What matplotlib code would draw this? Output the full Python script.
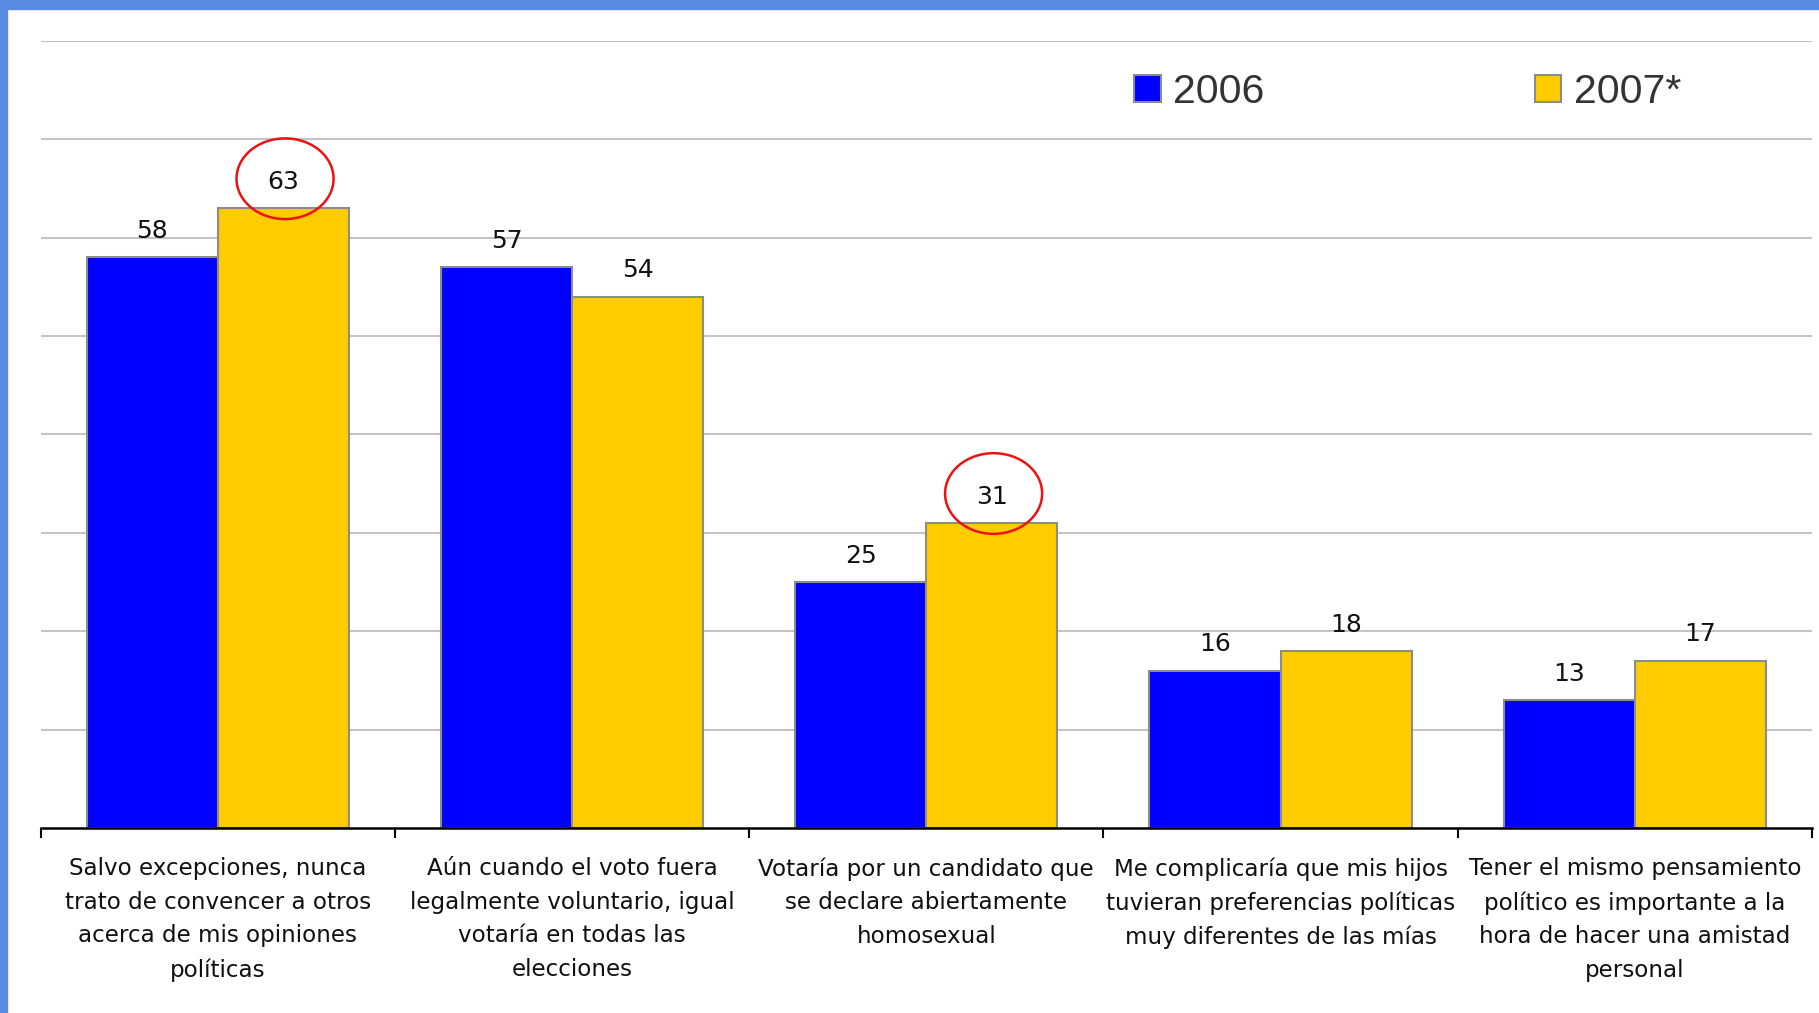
import numpy as np
import matplotlib
matplotlib.use('Agg')
import matplotlib.pyplot as plt
from matplotlib.patches import Ellipse, Rectangle

categories = [
    'Salvo excepciones, nunca\ntrato de convencer a otros\nacerca de mis opiniones\npolíticas',
    'Aún cuando el voto fuera\nlegalmente voluntario, igual\nvotaría en todas las\nelecciones',
    'Votaría por un candidato que\nse declare abiertamente\nhomosexual',
    'Me complicaría que mis hijos\ntuvieran preferencias políticas\nmuy diferentes de las mías',
    'Tener el mismo pensamiento\npolítico es importante a la\nhora de hacer una amistad\npersonal',
]
values_2006 = [58, 57, 25, 16, 13]
values_2007 = [63, 54, 31, 18, 17]
series_names = ['2006', '2007*']
circled = [0, 2]  # categories whose 2007 value is circled

fig = plt.figure(figsize=(18.19, 10.13), dpi=100)
fig.patch.set_facecolor('white')

# blue frame along top and left edge
fig.add_artist(Rectangle((0, 1 - 9 / 1013), 1, 9 / 1013, transform=fig.transFigure,
                         color='#5b8be0', zorder=0))
fig.add_artist(Rectangle((0, 0), 7 / 1819, 1, transform=fig.transFigure,
                         color='#5b8be0', zorder=0))

ax = fig.add_axes([40.6 / 1819, 185 / 1013, (1812 - 40.6) / 1819, (828 - 41) / 1013])

x = np.arange(len(categories))
w = 0.37
bars1 = ax.bar(x - w / 2, values_2006, w, color='#0000ff', edgecolor='#8c8c8c',
               linewidth=1.5, label=series_names[0], zorder=3)
bars2 = ax.bar(x + w / 2, values_2007, w, color='#ffcc00', edgecolor='#8c8c8c',
               linewidth=1.5, label=series_names[1], zorder=3)

for xs, vals in [(x - w / 2, values_2006), (x + w / 2, values_2007)]:
    for xi, v in zip(xs, vals):
        ax.annotate(str(v), (xi, v), xytext=(0, 19), textcoords='offset points',
                    ha='center', va='center', fontsize=18, color='#111111',
                    family='DejaVu Sans', zorder=5)

# red circles around selected values
for i in circled:
    ax.add_patch(Ellipse((x[i] + w / 2 + 0.005, values_2007[i] + 3.0), 0.274, 8.2,
                         fill=False, edgecolor='#ee1111', linewidth=1.8, zorder=6))

ax.set_xlim(-0.5, len(categories) - 0.5)
ax.set_ylim(0, 80)
ax.set_yticks(np.arange(10, 81, 10))
ax.yaxis.grid(True, color='#c4c4c4', linewidth=1.5, zorder=0)
ax.tick_params(axis='y', left=False, labelleft=False)

ax.set_xticks(np.arange(-0.5, len(categories)), minor=False)
ax.set_xticklabels([''] * (len(categories) + 1))
ax.tick_params(axis='x', which='major', direction='out', length=7, width=1.5, color='black')
ax.set_xticks(x, minor=True)
ax.set_xticklabels(categories, minor=True, fontsize=16.6, family='DejaVu Sans',
                   linespacing=1.59, va='top', color='#111111')
ax.tick_params(axis='x', which='minor', length=0, pad=21)

for s in ['top', 'left', 'right']:
    ax.spines[s].set_visible(False)
ax.spines['bottom'].set_linewidth(1.8)
ax.spines['bottom'].set_zorder(4)

leg = fig.legend(handles=[bars1, bars2], labels=series_names, ncol=2,
                 loc='center left', bbox_to_anchor=(1134 / 1819, 1 - 92 / 1013),
                 frameon=False, borderpad=0, borderaxespad=0,
                 handlelength=0.65, handleheight=0.65, handletextpad=0.3,
                 columnspacing=6.6,
                 prop={'family': 'Liberation Sans', 'size': 29.5})
for t in leg.get_texts():
    t.set_color('#333333')

fig.savefig('out.png', dpi=100, facecolor='white')
